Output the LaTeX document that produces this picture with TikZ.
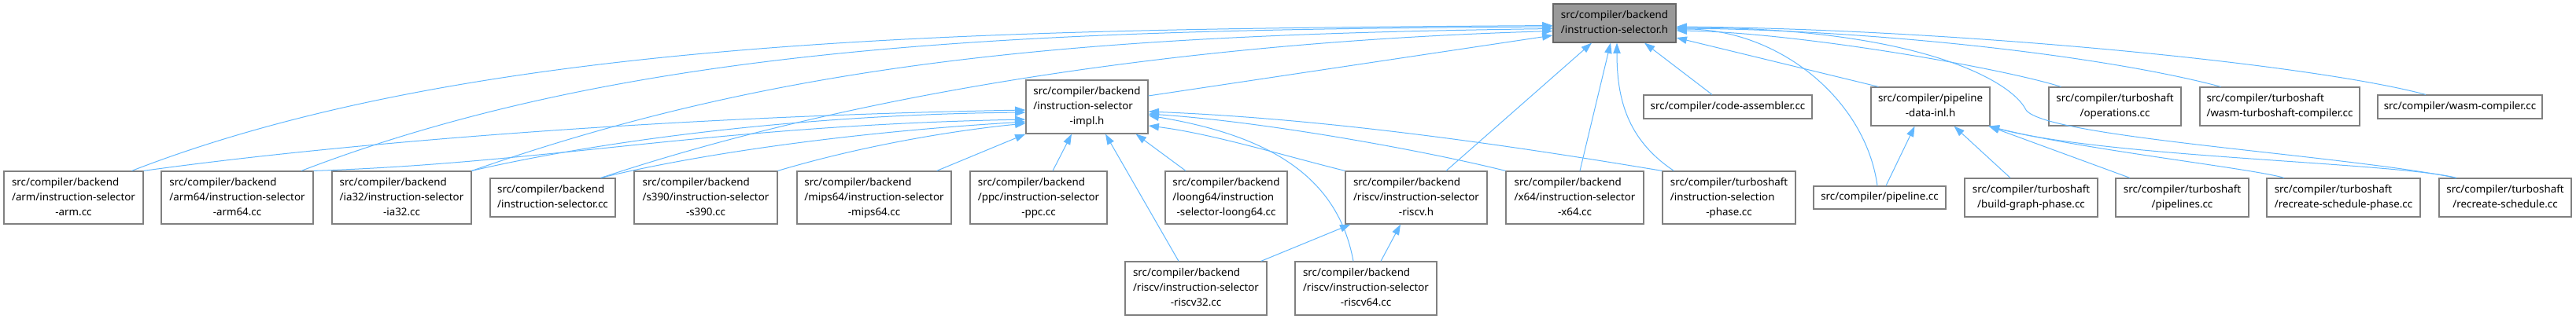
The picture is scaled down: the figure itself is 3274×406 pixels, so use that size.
\documentclass[tikz,border=0pt]{standalone}
\usepackage{fontspec}
\setmainfont{Noto Sans}
\usepackage{tikz}
\usetikzlibrary{arrows.meta}
\usepackage{xcolor}
\definecolor{edgeblue}{HTML}{63B8FF}
\definecolor{boxgray}{HTML}{808080}
\definecolor{maingray}{HTML}{999999}
\definecolor{mainborder}{HTML}{666666}
\newcommand{\ftwo}[2]{\begin{tabular}{@{}l@{}}#1\\\multicolumn{1}{@{}c@{}}{#2}\end{tabular}}
\newcommand{\fthree}[3]{\begin{tabular}{@{}l@{}}#1\\#2\\\multicolumn{1}{@{}c@{}}{#3}\end{tabular}}

\begin{document}
\begin{tikzpicture}[x=0.75pt,y=-0.75pt,font=\fontsize{10}{14.25}\selectfont,
  filebox/.style 2 args={draw=boxgray,line width=0.9pt,fill=white,inner sep=0pt,
    minimum width=#1*0.75pt,minimum height=#2*0.75pt},
  mainbox/.style={draw=mainborder,fill=maingray},
  inc/.style={draw=edgeblue,line width=0.75pt,-{Triangle[length=10pt,width=7pt]}}]
\useasboundingbox (0,0) rectangle (3274,406);
% header and its direct users
\node[filebox={156}{49},mainbox] (main) at (2052,29.5) {\ftwo{src/compiler/backend}{/instruction-selector.h}};
\node[filebox={155}{68}] (impl) at (1381.5,136) {\fthree{src/compiler/backend}{/instruction-selector}{-impl.h}};
\node[filebox={214}{30}] (codeasm) at (2196,136) {src/compiler/code-assembler.cc};
\node[filebox={151}{49}] (pdi) at (2453.5,135.5) {\ftwo{src/compiler/pipeline}{-data-inl.h}};
\node[filebox={168}{49}] (operations) at (2688,135.5) {\ftwo{src/compiler/turboshaft}{/operations.cc}};
\node[filebox={203}{49}] (wasmts) at (2897.5,135.5) {\ftwo{src/compiler/turboshaft}{/wasm-turboshaft-compiler.cc}};
\node[filebox={209}{30}] (wasmcomp) at (3126.5,136) {src/compiler/wasm-compiler.cc};
% row of sources
\node[filebox={177}{67}] (arm) at (93.5,251.5) {\fthree{src/compiler/backend}{/arm/instruction-selector}{-arm.cc}};
\node[filebox={193}{67}] (arm64) at (301.5,251.5) {\fthree{src/compiler/backend}{/arm64/instruction-selector}{-arm64.cc}};
\node[filebox={177}{67}] (ia32) at (510.5,251.5) {\fthree{src/compiler/backend}{/ia32/instruction-selector}{-ia32.cc}};
\node[filebox={159}{49}] (iselcc) at (702.5,251.5) {\ftwo{src/compiler/backend}{/instruction-selector.cc}};
\node[filebox={182}{67}] (s390) at (897,251.5) {\fthree{src/compiler/backend}{/s390/instruction-selector}{-s390.cc}};
\node[filebox={196}{67}] (mips64) at (1111,251.5) {\fthree{src/compiler/backend}{/mips64/instruction-selector}{-mips64.cc}};
\node[filebox={174}{67}] (ppc) at (1320,251.5) {\fthree{src/compiler/backend}{/ppc/instruction-selector}{-ppc.cc}};
\node[filebox={155}{67}] (loong64) at (1558.5,251.5) {\fthree{src/compiler/backend}{/loong64/instruction}{-selector-loong64.cc}};
\node[filebox={180}{67}] (riscvh) at (1800,251.5) {\fthree{src/compiler/backend}{/riscv/instruction-selector}{-riscv.h}};
\node[filebox={175}{67}] (x64) at (2001.5,251.5) {\fthree{src/compiler/backend}{/x64/instruction-selector}{-x64.cc}};
\node[filebox={169}{67}] (tsphase) at (2197.5,251.5) {\fthree{src/compiler/turboshaft}{/instruction-selection}{-phase.cc}};
\node[filebox={168}{29}] (pipelinecc) at (2389,251.5) {src/compiler/pipeline.cc};
\node[filebox={169}{49}] (buildgraph) at (2581.5,251.5) {\ftwo{src/compiler/turboshaft}{/build-graph-phase.cc}};
\node[filebox={169}{49}] (pipelines) at (2773.5,251.5) {\ftwo{src/compiler/turboshaft}{/pipelines.cc}};
\node[filebox={195}{49}] (rsphase) at (2978.5,251.5) {\ftwo{src/compiler/turboshaft}{/recreate-schedule-phase.cc}};
\node[filebox={168}{49}] (rs) at (3184,251.5) {\ftwo{src/compiler/turboshaft}{/recreate-schedule.cc}};
\node[filebox={180}{68}] (riscv32) at (1520,367) {\fthree{src/compiler/backend}{/riscv/instruction-selector}{-riscv32.cc}};
\node[filebox={180}{68}] (riscv64) at (1736,367) {\fthree{src/compiler/backend}{/riscv/instruction-selector}{-riscv64.cc}};
\coordinate (rsbend) at (2575,140);
% includes of instruction-selector.h
\draw[inc] ([shift={(74,0)}]arm.north) .. controls +(450,-175) and +(-700,5) .. ([shift={(0,3)}]main.west);
\draw[inc] ([shift={(81.5,0)}]arm64.north) .. controls +(430,-165) and +(-650,4) .. ([shift={(0,4.5)}]main.west);
\draw[inc] (ia32.north east) .. controls +(400,-140) and +(-600,8) .. ([shift={(0,7)}]main.west);
\draw[inc] ([shift={(-19,0)}]iselcc.north east) .. controls +(300,-100) and +(-500,15) .. ([shift={(0,10)}]main.west);
\draw[inc] ([shift={(0,-14)}]impl.east) -- ([shift={(0,15.5)}]main.west);
\draw[inc] ([shift={(38,0)}]riscvh.north) -- ([shift={(-29,0)}]main.south);
\draw[inc] ([shift={(6.5,0)}]x64.north) -- ([shift={(-5,0)}]main.south);
\draw[inc] ([shift={(15,0)}]tsphase.north west) .. controls +(-60,-40) and +(0,70) .. ([shift={(3,0)}]main.south);
\draw[inc] ([shift={(-20,0)}]codeasm.north) -- ([shift={(38,0)}]main.south);
\draw[inc] ([shift={(-3,0)}]pipelinecc.north) .. controls +(-15,-110) and +(130,0) .. ([shift={(0,7.5)}]main.east);
\draw[inc] ([shift={(10,0)}]pdi.north west) -- ([shift={(0,18.5)}]main.east);
\draw[inc] ([shift={(16,0)}]operations.north west) .. controls +(-80,-25) and +(150,2) .. ([shift={(0,9.5)}]main.east);
\draw[inc] ([shift={(-75,0)}]wasmts.north) .. controls +(-150,-40) and +(250,2) .. ([shift={(0,6.5)}]main.east);
\draw[inc] ([shift={(-43.5,0)}]wasmcomp.north) .. controls +(-150,-40) and +(350,3) .. ([shift={(0,4.5)}]main.east);
\draw[inc] ([shift={(-62,0)}]rs.north) .. controls +(-150,-30) and (2600,175) .. (rsbend) .. controls (2555,100) and +(300,0) .. ([shift={(0,5.5)}]main.east);
% includes of instruction-selector-impl.h
\draw[inc] (arm.north east) .. controls +(250,-35) and +(-450,8) .. ([shift={(0,4)}]impl.west);
\draw[inc] (arm64.north east) .. controls +(300,-10) and +(-400,8) .. ([shift={(0,16)}]impl.west);
\draw[inc] (ia32.north east) .. controls +(150,-35) and +(-300,3) .. ([shift={(0,7)}]impl.west);
\draw[inc] ([shift={(-19,0)}]iselcc.north east) .. controls +(100,-25) and +(-250,15) .. ([shift={(0,19)}]impl.west);
\draw[inc] (s390.north east) .. controls +(100,-30) and +(-100,10) .. ([shift={(0,21)}]impl.west);
\draw[inc] ([shift={(-19,0)}]mips64.north east) -- (impl.south west);
\draw[inc] ([shift={(18,0)}]ppc.north) -- ([shift={(-19.5,0)}]impl.south);
\draw[inc] ([shift={(-51.5,0)}]loong64.north) -- ([shift={(-16,0)}]impl.south east);
\draw[inc] ([shift={(-22,0)}]riscv32.north) -- ([shift={(23.5,0)}]impl.south);
\draw[inc] (riscvh.north west) .. controls +(-80,-20) and +(80,10) .. ([shift={(0,24)}]impl.east);
\draw[inc] (x64.north west) .. controls +(-100,-25) and +(150,10) .. ([shift={(0,9)}]impl.east);
\draw[inc] (tsphase.north west) .. controls +(-150,-25) and +(250,10) .. ([shift={(0,6)}]impl.east);
\draw[inc] ([shift={(-16,0)}]riscv64.north) .. controls +(-20,-110) and +(150,25) .. ([shift={(0,11)}]impl.east);
% includes of instruction-selector-riscv.h
\draw[inc] ([shift={(-8,0)}]riscv32.north east) -- ([shift={(7,0)}]riscvh.south west);
\draw[inc] ([shift={(19,0)}]riscv64.north) -- ([shift={(-20,0)}]riscvh.south);
% includes of pipeline-data-inl.h
\draw[inc] ([shift={(8,0)}]pipelinecc.north) -- ([shift={(-20,0)}]pdi.south);
\draw[inc] ([shift={(-26.5,0)}]buildgraph.north) -- ([shift={(30,0)}]pdi.south);
\draw[inc] ([shift={(-66.5,0)}]pipelines.north) -- ([shift={(-2,0)}]pdi.south east);
\draw[inc] ([shift={(-75.5,0)}]rsphase.north) .. controls +(-40,-12) and +(120,30) .. ([shift={(-2,0)}]pdi.south east);
\draw[inc] ([shift={(-62,0)}]rs.north) .. controls +(-80,-20) and +(150,40) .. ([shift={(-2,0)}]pdi.south east);
\end{tikzpicture}
\end{document}
